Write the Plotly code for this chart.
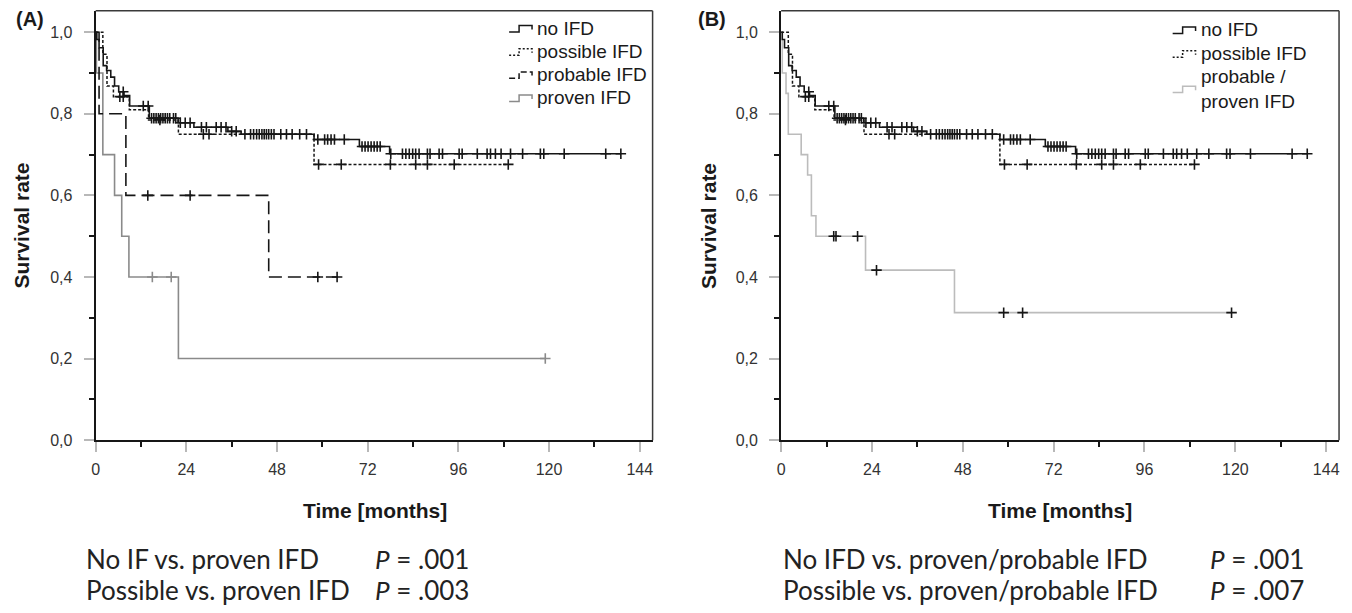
import numpy as np
import plotly.graph_objects as go

W, H = 1352, 613

# ---------------- data ----------------
# no IFD (same in both panels)
noifd_t = [0, 0.3, 0.9, 2.0, 2.9, 4.0, 5.0, 6.1, 7.5, 9.0, 14.2, 21.8, 26.0, 35.0, 38.5, 57.8, 69.8, 77.8]
noifd_s = [1.0, 0.982, 0.962, 0.918, 0.906, 0.890, 0.868, 0.854, 0.845, 0.819, 0.789, 0.778, 0.767, 0.757, 0.750, 0.737, 0.720, 0.702]
noifd_end = 139.0
noifd_cens = [7.3, 12.6, 13.9, 14.8, 15.4, 16.0, 16.6, 17.2, 17.8, 18.4, 19.0, 19.6, 20.6, 21.2,
              22.4, 23.7, 25.0, 28.0, 29.3, 31.9, 33.2, 34.5, 36.0, 37.2,
              39.5, 41.0, 41.8, 42.6, 43.3, 44.0, 44.6, 45.2, 45.8, 46.5, 47.2, 49.0, 50.5, 52.0, 54.0, 55.8,
              58.8, 60.6, 61.4, 62.3, 63.2, 65.8,
              70.5, 71.3, 72.1, 72.9, 73.7, 74.5, 75.3,
              78.1, 81.2, 82.1, 83.0, 83.9, 84.7, 85.6, 87.8, 88.5, 90.9, 91.8, 96.2, 97.0, 101.0,
              103.6, 104.5, 105.8, 107.3, 109.8, 113.0, 117.7, 118.6, 124.0, 135.0, 139.0]

# possible IFD (same in both panels)
poss_t = [0, 1.9, 3.0, 4.7, 8.9, 14.0, 21.9, 57.8]
poss_s = [1.0, 0.946, 0.868, 0.842, 0.810, 0.785, 0.750, 0.676]
poss_end = 109.2
poss_cens = [6.4, 7.3, 17.0, 28.5, 30.0, 59.0, 65.0, 78.0, 84.7, 87.8, 94.9, 109.2]

# probable IFD (panel A)
prob_t = [0, 0.9, 8.0, 45.8]
prob_s = [1.0, 0.8, 0.6, 0.4]
prob_end = 63.9
prob_cens = [13.8, 25.0, 58.8, 63.9]

# proven IFD (panel A)
prov_t = [0, 0.2, 1.9, 5.0, 6.9, 8.8, 21.9]
prov_s = [1.0, 0.9, 0.7, 0.6, 0.5, 0.4, 0.2]
prov_end = 119.0
prov_cens = [15.0, 20.0, 119.0]

# probable / proven IFD (panel B)
pp_t = [0, 0.3, 1.3, 1.9, 5.3, 7.0, 8.0, 9.2, 22.3, 45.8]
pp_s = [1.0, 0.9, 0.85, 0.75, 0.70, 0.65, 0.55, 0.50, 0.4167, 0.3125]
pp_end = 119.0
pp_cens = [13.9, 14.5, 20.2, 25.2, 58.8, 63.8, 119.0]

x_ticks_dtick = 24
y_ticks_dtick = 0.2

legend_A = ["no IFD", "possible IFD", "probable IFD", "proven IFD"]
legend_B = ["no IFD", "possible IFD", "probable /<br>proven IFD"]

# ---------------- helpers ----------------
def px(x):
    return x / W

def py(y):
    return 1 - y / H

fig = go.Figure()

def km(t, s, end, cens, color, dash, width, xa, ya, ccolor):
    xs = list(t) + [end]
    ys = list(s) + [s[-1]]
    fig.add_trace(go.Scatter(x=xs, y=ys, mode="lines",
                             line=dict(shape="hv", color=color, dash=dash, width=width),
                             xaxis=xa, yaxis=ya, showlegend=False, hoverinfo="skip"))
    idx = np.searchsorted(np.array(t), np.array(cens), side="right") - 1
    cy = np.array(s)[idx]
    fig.add_trace(go.Scatter(x=cens, y=cy, mode="markers",
                             marker=dict(symbol="cross-thin", size=7.5, color=ccolor,
                                         line=dict(width=1.6, color=ccolor)),
                             xaxis=xa, yaxis=ya, showlegend=False, hoverinfo="skip"))

BLACK = "#161616"
GRAY_A = "#8a8a8a"
GRAY_B = "#bcbcbc"
SHORT = "3px,2px"
LONG = "13px,6px"

# Panel A
km(prov_t, prov_s, prov_end, prov_cens, GRAY_A, "solid", 1.6, "x", "y", GRAY_A)
km(prob_t, prob_s, prob_end, prob_cens, BLACK, LONG, 1.6, "x", "y", BLACK)
km(poss_t, poss_s, poss_end, poss_cens, BLACK, SHORT, 1.5, "x", "y", BLACK)
km(noifd_t, noifd_s, noifd_end, noifd_cens, BLACK, "solid", 1.6, "x", "y", BLACK)
# Panel B
km(pp_t, pp_s, pp_end, pp_cens, GRAY_B, "solid", 1.6, "x2", "y2", BLACK)
km(poss_t, poss_s, poss_end, poss_cens, BLACK, SHORT, 1.5, "x2", "y2", BLACK)
km(noifd_t, noifd_s, noifd_end, noifd_cens, BLACK, "solid", 1.6, "x2", "y2", BLACK)

tickfont = dict(family="Liberation Sans, Arial, sans-serif", size=16, color="#333333")

def xaxis(domain, anchor):
    return dict(domain=domain, anchor=anchor, range=[0, 147.4], tickmode="linear", tick0=0,
                dtick=x_ticks_dtick, showline=True, linecolor=BLACK, linewidth=2,
                ticks="outside", ticklen=10, tickwidth=2, tickcolor="#b8b8b8",
                showgrid=False, zeroline=False, tickfont=tickfont, ticklabelstandoff=4,
                minor=dict(ticks="outside", ticklen=5, tickwidth=2, tickcolor=BLACK,
                           tickmode="linear", tick0=0, dtick=12, showgrid=False),
                fixedrange=True)

def yaxis(domain, anchor):
    return dict(domain=domain, anchor=anchor, range=[0, 1.0524], tickmode="linear", tick0=0,
                dtick=y_ticks_dtick, tickformat=".1f", showline=True, linecolor=BLACK,
                linewidth=2, ticks="outside", ticklen=10, tickwidth=2, tickcolor="#b8b8b8",
                showgrid=False, zeroline=False, tickfont=tickfont, ticklabelstandoff=8,
                minor=dict(ticks="outside", ticklen=5, tickwidth=2, tickcolor=BLACK,
                           tickmode="linear", tick0=0, dtick=0.1, showgrid=False),
                fixedrange=True)

ydom = [py(446.7), py(11)]
fig.update_layout(
    width=W, height=H, margin=dict(l=0, r=0, t=0, b=0),
    paper_bgcolor="white", plot_bgcolor="white", separators=",.",
    xaxis=xaxis([px(92), px(651)], "y"),
    yaxis=yaxis(ydom, "x"),
    xaxis2=xaxis([px(780), px(1340)], "y2"),
    yaxis2=yaxis(ydom, "x2"),
    showlegend=False,
)

shapes = []
for xr, yr in (("x domain", "y domain"), ("x2 domain", "y2 domain")):
    shapes.append(dict(type="line", xref=xr, yref=yr, x0=0, x1=1, y0=1, y1=1,
                       line=dict(color="#3a3a3a", width=1.5)))
    shapes.append(dict(type="line", xref=xr, yref=yr, x0=1, x1=1, y0=0, y1=1,
                       line=dict(color="#3a3a3a", width=1.5)))

annots = []
bold = dict(family="Liberation Sans, Arial, sans-serif", size=21, color="#1a1a1a")

def text(x, y, s, font, xanchor="center", yanchor="middle", angle=0, align="center"):
    annots.append(dict(x=px(x), y=py(y), xref="paper", yref="paper", text=s, showarrow=False,
                       xanchor=xanchor, yanchor=yanchor, textangle=angle, font=font, align=align))

# panel letters
text(26, 19, "<b>(A)</b>", dict(bold, size=20))
text(711, 19, "<b>(B)</b>", dict(bold, size=20))
# axis titles
text(18, 229, "<b>Survival rate</b>", bold, angle=-90)
text(707, 229, "<b>Survival rate</b>", bold, angle=-90)
text(372, 518, "<b>Time [months]</b>", bold)
text(1060, 518, "<b>Time [months]</b>", bold)

# legends
legfont = dict(family="Liberation Sans, Arial, sans-serif", size=19, color="#1a1a1a")

def icon(x0, yc, color, dash):
    path = (f"M{px(x0)},{py(yc+4)} L{px(x0+10)},{py(yc+4)} L{px(x0+10)},{py(yc-2.5)} "
            f"L{px(x0+23)},{py(yc-2.5)} L{px(x0+23)},{py(yc+1.5)}")
    shapes.append(dict(type="path", xref="paper", yref="paper", path=path,
                       line=dict(color=color, width=1.5, dash=dash)))

rowsA = [28.5, 52, 75.5, 99]
stylesA = [(BLACK, "solid"), (BLACK, "2px,2px"), (BLACK, "6px,3px"), (GRAY_A, "solid")]
for lbl, yc, (c, d) in zip(legend_A, rowsA, stylesA):
    text(533, yc, lbl, legfont, xanchor="left", align="left")
    icon(507, yc, c, d)

rowsB = [30, 54, 90]
stylesB = [(BLACK, "solid"), (BLACK, "2px,2px"), (GRAY_B, "solid")]
for lbl, yc, (c, d) in zip(legend_B, rowsB, stylesB):
    text(1199, yc, lbl, legfont, xanchor="left", align="left")
    icon(1173, yc, c, d)

# bottom statistics
bfont = dict(family="Lato, Carlito, sans-serif", size=26, color="#222222")
text(80, 567, "No IF vs. proven IFD", bfont, xanchor="left", align="left")
text(80, 599, "Possible vs. proven IFD", bfont, xanchor="left", align="left")
text(370, 567, "<i>P</i> = .001", bfont, xanchor="left", align="left")
text(370, 599, "<i>P</i> = .003", bfont, xanchor="left", align="left")
text(780, 567, "No IFD vs. proven/probable IFD", bfont, xanchor="left", align="left")
text(780, 599, "Possible vs. proven/probable IFD", bfont, xanchor="left", align="left")
text(1208, 567, "<i>P</i> = .001", bfont, xanchor="left", align="left")
text(1208, 599, "<i>P</i> = .007", bfont, xanchor="left", align="left")

fig.update_layout(shapes=shapes, annotations=annots)
fig.write_html(
    "out.html",
    config={"displayModeBar": False, "staticPlot": True},
    post_script=("document.body.style.margin='0px';"
                 "document.documentElement.style.overflow='hidden';"
                 "var d=document.getElementById('{plot_id}');"
                 "d.style.position='fixed';d.style.top='0px';d.style.left='0px';"),
)
